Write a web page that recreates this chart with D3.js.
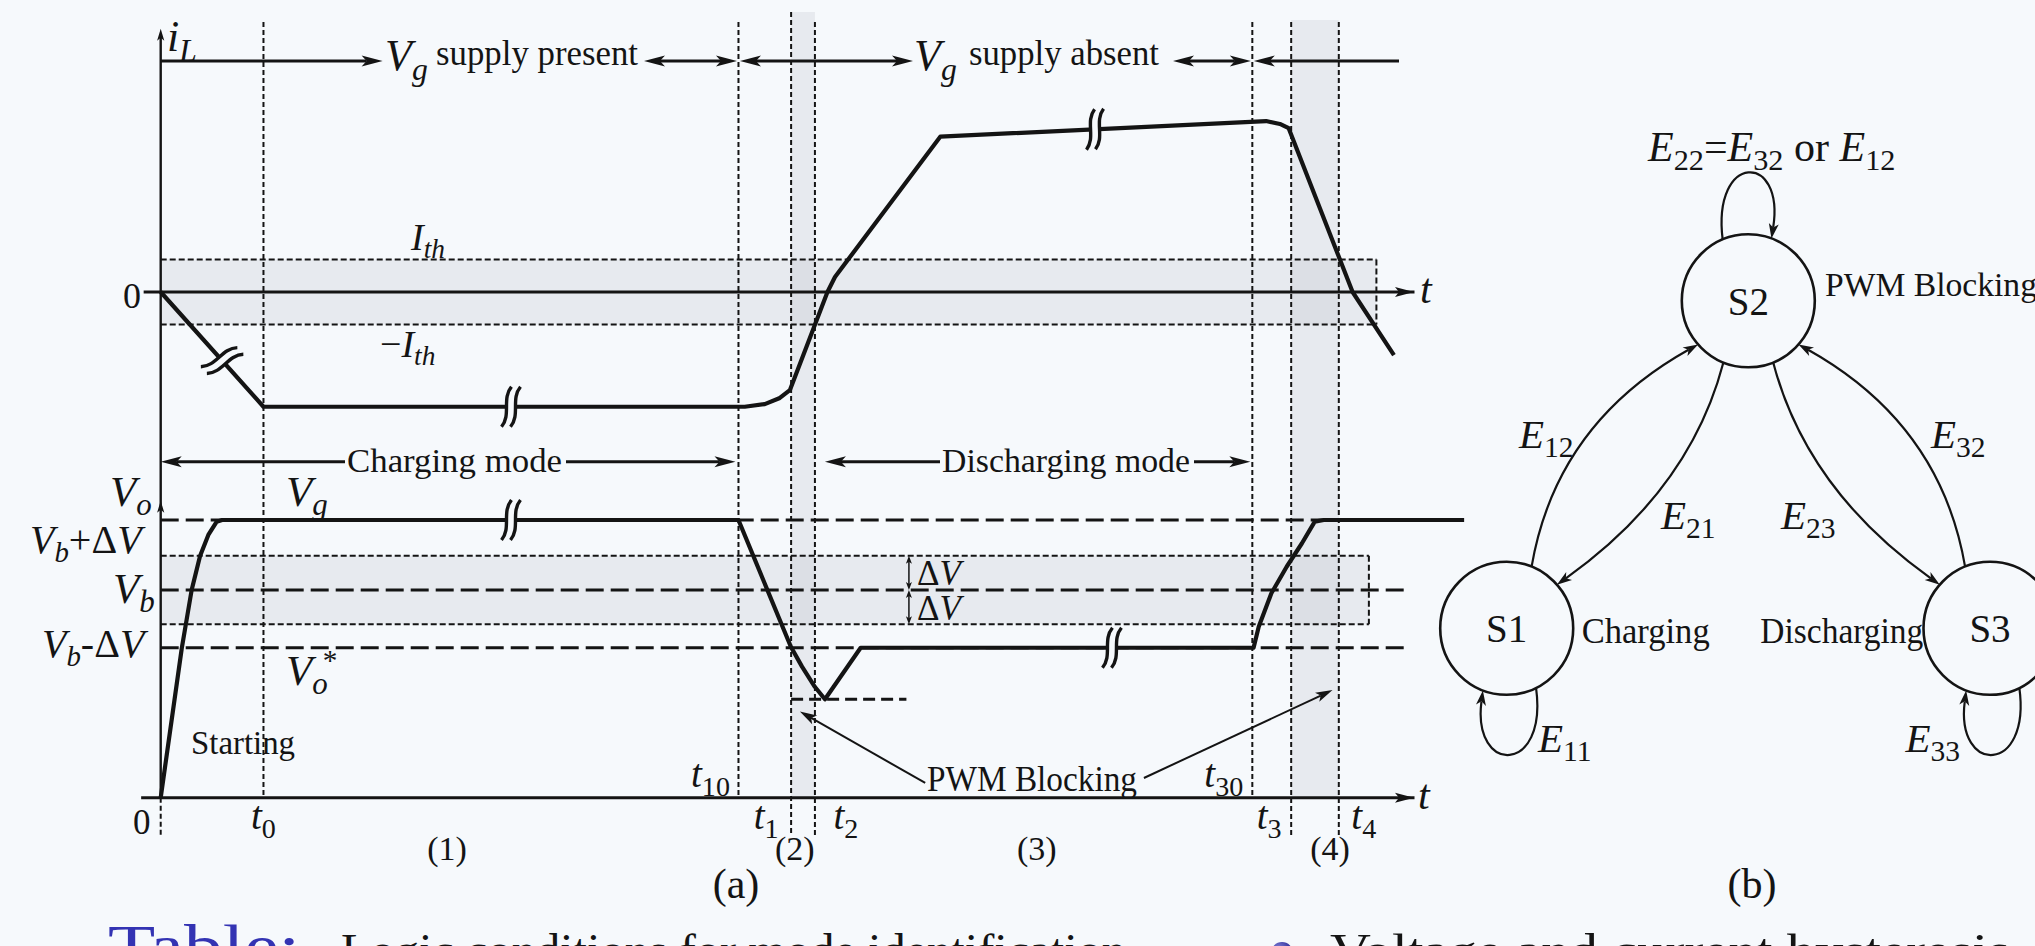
<!DOCTYPE html>
<html>
<head>
<meta charset="utf-8">
<script src="https://cdn.jsdelivr.net/npm/d3@7"></script>
<style>
  html, body { margin: 0; padding: 0; background: #f6f9fc; overflow: hidden; }
  svg { display: block; }
  text { font-family: "Liberation Serif", "Times New Roman", serif; fill: #141414; }
</style>
</head>
<body>
<svg id="fig" width="2035" height="946"></svg>
<script>
// ---------------- data ----------------
// switching instants on the time axis (arbitrary time units)
const instantNames = ["0", "t0", "t10", "t1", "t2", "t30", "t3", "t4"];
const instantTimes = [0, 8.2, 46.1, 50.3, 52.2, 87.1, 90.2, 94.0];

// inductor current i_L (units of I_th)
const iLTime  = [0, 8.2, 46.6, 48.2, 49.4, 50.2, 53.2, 53.8, 62.2, 88.2, 89.3, 90.0, 95.1, 98.4];
const iLValue = [0, -3.53, -3.53, -3.45, -3.26, -3.02, 0, 0.46, 4.78, 5.26, 5.17, 5.04, 0, -1.94];

// output voltage V_o (V_b = 10)
const voTime  = [0, 1.68, 2.02, 2.47, 3.14, 3.80, 4.47, 4.9, 46.1, 50.28, 51.17, 52.19, 53.0, 55.85,
                 87.2, 87.61, 88.62, 89.84, 91.06, 92.08, 92.8, 104.0];
const voValue = [0, 7.19, 8.40, 10.0, 11.64, 12.65, 13.29, 13.37, 13.37, 7.27, 6.31, 5.34, 4.74, 7.22,
                 7.22, 8.23, 9.84, 11.12, 12.25, 13.29, 13.37, 13.37];

// reference levels
const iThreshold = 1;
const vGrid = 13.37, vBattery = 10, deltaV = 1.65, vRef = 7.22, vMin = 4.74;

// time-axis break marks
const iLBreakTimes = [4.9, 27.95, 74.55];
const voBreakTimes = [27.95, 75.9];

// operating phases
const phaseNames = ["(1)", "(2)", "(3)", "(4)"];
const phaseTimes = [22.85, 50.6, 69.9, 93.3];

// state machine
const states = ["S1", "S2", "S3"];
const stateModes = ["Charging", "PWM Blocking", "Discharging"];
const transitions = [["S1", "S2", "12"], ["S2", "S1", "21"], ["S2", "S3", "23"], ["S3", "S2", "32"]];
const selfLoops = [["S1", "11"], ["S2", "22"], ["S3", "33"]];

// ---------------- setup ----------------
const bg = "#f6f9fc", ink = "#141414";
const svg = d3.select("#fig");
svg.append("rect").attr("width", 2035).attr("height", 946).attr("fill", bg);

const x  = d3.scaleLinear().domain([0, 100]).range([160.7, 1414]);
const yI = d3.scaleLinear().domain([0, 1]).range([292, 259.5]);
const yV = d3.scaleLinear().domain([0, 10]).range([797.7, 590]);
const T = Object.fromEntries(instantNames.map((n, i) => [n, instantTimes[i]]));

function interp(ts, vs, t) {
  for (let k = 0; k < ts.length - 1; k++) {
    if (t >= ts[k] && t <= ts[k + 1]) {
      const f = (t - ts[k]) / (ts[k + 1] - ts[k]);
      return vs[k] + f * (vs[k + 1] - vs[k]);
    }
  }
  return vs[vs.length - 1];
}

function head(g, tx, ty, ang, len, hw, notch) {
  g.append("path")
    .attr("d", `M0,0 L${-len},${-hw} L${-len + notch},0 L${-len},${hw} Z`)
    .attr("transform", `translate(${tx},${ty}) rotate(${ang * 180 / Math.PI})`)
    .attr("fill", ink);
}
function arrow(g, x1, y1, x2, y2, o = {}) {
  const w = o.w ?? 3, len = o.len ?? 21, hw = o.hw ?? 5.5, notch = o.notch ?? 5;
  const start = o.start ?? false, end = o.end ?? true;
  const a = Math.atan2(y2 - y1, x2 - x1);
  const ts = start ? len - notch : 0, te = end ? len - notch : 0;
  g.append("line")
    .attr("x1", x1 + Math.cos(a) * ts).attr("y1", y1 + Math.sin(a) * ts)
    .attr("x2", x2 - Math.cos(a) * te).attr("y2", y2 - Math.sin(a) * te)
    .attr("stroke", ink).attr("stroke-width", w);
  if (end) head(g, x2, y2, a, len, hw, notch);
  if (start) head(g, x1, y1, a + Math.PI, len, hw, notch);
}

// text with italic letters, subscripts and superscripts
function mathLabel(parent, px, py, parts, size, anchor = "start") {
  const t = parent.append("text").attr("x", px).attr("y", py)
    .attr("font-size", size).attr("text-anchor", anchor);
  let shift = 0;
  parts.forEach(p => {
    const kind = p[1] || "r";
    let target = 0, fs = size, italic = kind === "i";
    if (kind === "sub" || kind === "isub") { target = size * 0.22; fs = size * 0.72; italic = kind === "isub"; }
    if (kind === "sup") { target = -size * 0.36; fs = size * 0.68; }
    const ts = t.append("tspan").text(p[0]).attr("font-size", fs).attr("dy", target - shift);
    if (italic) ts.attr("font-style", "italic");
    if (p[2] !== undefined) ts.attr("dx", p[2]);
    shift = target;
  });
  return t;
}
function plainLabel(parent, px, py, str, size, len, anchor = "start") {
  const t = parent.append("text").attr("x", px).attr("y", py).attr("font-size", size)
    .attr("text-anchor", anchor).text(str);
  if (len) t.attr("textLength", len).attr("lengthAdjust", "spacingAndGlyphs");
  return t;
}

// ---------------- shaded threshold bands ----------------
const bandFill = "rgb(188,193,199)", bandOpacity = 0.25;
const gBands = svg.append("g");
// current hysteresis band  |i_L| < I_th
gBands.append("rect").attr("x", x(0)).attr("y", yI(iThreshold))
  .attr("width", x(97.0) - x(0)).attr("height", yI(-iThreshold) - yI(iThreshold))
  .attr("fill", bandFill).attr("opacity", bandOpacity);
// voltage hysteresis band  V_b ± ΔV
gBands.append("rect").attr("x", x(0)).attr("y", yV(vBattery + deltaV))
  .attr("width", x(96.4) - x(0)).attr("height", yV(vBattery - deltaV) - yV(vBattery + deltaV))
  .attr("fill", bandFill).attr("opacity", bandOpacity);
// PWM blocking intervals
[[T.t1, T.t2, 12], [T.t3, T.t4, 20]].forEach(([a, b, top]) => {
  gBands.append("rect").attr("x", x(a)).attr("y", top).attr("width", x(b) - x(a))
    .attr("height", yV(0) - top).attr("fill", bandFill).attr("opacity", bandOpacity);
});

// band outlines
const gEdges = svg.append("g").attr("fill", "none").attr("stroke", ink).attr("stroke-width", 2)
  .attr("stroke-dasharray", "6,3");
[iThreshold, -iThreshold].forEach(v =>
  gEdges.append("line").attr("x1", x(0)).attr("x2", x(97.0)).attr("y1", yI(v)).attr("y2", yI(v)));
gEdges.append("line").attr("x1", x(97.0)).attr("x2", x(97.0)).attr("y1", yI(iThreshold)).attr("y2", yI(-iThreshold));
[vBattery + deltaV, vBattery - deltaV].forEach(v =>
  gEdges.append("line").attr("x1", x(0)).attr("x2", x(96.4)).attr("y1", yV(v)).attr("y2", yV(v)));
gEdges.append("line").attr("x1", x(96.4)).attr("x2", x(96.4))
  .attr("y1", yV(vBattery + deltaV)).attr("y2", yV(vBattery - deltaV));

// ---------------- instant markers ----------------
const gInst = svg.append("g").attr("stroke", ink).attr("stroke-width", 2).attr("stroke-dasharray", "5,3");
const longDrop = ["t1", "t2", "t3", "t4"];
instantNames.forEach((n, i) => {
  const xx = x(instantTimes[i]);
  const bottom = (longDrop.includes(n) || n === "0") ? 836 : yV(0);
  const top = n === "0" ? yV(0) : (n === "t1" ? 12 : 22);
  gInst.append("line").attr("x1", xx).attr("x2", xx).attr("y1", top).attr("y2", bottom);
});

// ---------------- voltage reference levels ----------------
const gLev = svg.append("g").attr("stroke", ink).attr("stroke-width", 3).attr("stroke-dasharray", "18,7");
[vGrid, vBattery, vRef].forEach(v =>
  gLev.append("line").attr("x1", x(0)).attr("x2", x(99.6)).attr("y1", yV(v)).attr("y2", yV(v)));
svg.append("line").attr("x1", x(T.t1)).attr("x2", x(59.5)).attr("y1", yV(vMin)).attr("y2", yV(vMin))
  .attr("stroke", ink).attr("stroke-width", 3).attr("stroke-dasharray", "12,6");

// ---------------- axes ----------------
const upperAxisScale = d3.scaleLinear().domain([-1.4, 100]).range([x(-1.4), x(100)]);
const lowerAxisScale = d3.scaleLinear().domain([-1.6, 100]).range([x(-1.6), x(100)]);
[[upperAxisScale, yI(0)], [lowerAxisScale, yV(0)]].forEach(([sc, yy]) => {
  const g = svg.append("g").attr("transform", `translate(0,${yy - 0.5})`)
    .call(d3.axisBottom(sc).tickValues([]).tickSizeOuter(0));
  g.select(".domain").attr("stroke", ink).attr("stroke-width", 3);
  head(svg, x(100), yy, 0, 19, 5, 4);
});
// shared vertical axis: i_L on top, V_o below
svg.append("line").attr("x1", x(0)).attr("x2", x(0)).attr("y1", yV(0)).attr("y2", yI(8.1) + 8)
  .attr("stroke", ink).attr("stroke-width", 2.4);
head(svg, x(0), yI(8.1), -Math.PI / 2, 12, 3.6, 3);
head(svg, x(0), yV(14.3), -Math.PI / 2, 12, 3.6, 3);

// ---------------- waveforms ----------------
const iLPts = iLTime.map((t, k) => [t, iLValue[k]]);
const voPts = voTime.map((t, k) => [t, voValue[k]]);
svg.append("path").datum(iLPts)
  .attr("d", d3.line().x(d => x(d[0])).y(d => yI(d[1])))
  .attr("fill", "none").attr("stroke", ink).attr("stroke-width", 4.2).attr("stroke-linejoin", "round");
svg.append("path").datum(voPts)
  .attr("d", d3.line().x(d => x(d[0])).y(d => yV(d[1])))
  .attr("fill", "none").attr("stroke", ink).attr("stroke-width", 4.2).attr("stroke-linejoin", "round");

// break marks on the waveforms
function breakMark(px, py, ang) {
  const g = svg.append("g").attr("transform", `translate(${px},${py}) rotate(${ang})`);
  g.append("line").attr("x1", -5).attr("x2", 5).attr("y1", 0).attr("y2", 0)
    .attr("stroke", bg).attr("stroke-width", 8);
  [-4.5, 4.5].forEach(dx => g.append("path")
    .attr("d", `M${dx + 5},-20 C${dx - 5},-8 ${dx + 5},8 ${dx - 5},20`)
    .attr("fill", "none").attr("stroke", ink).attr("stroke-width", 3.4));
}
function placeBreaks(times, ts, vs, ys) {
  times.forEach(t => {
    const p0 = [x(t - 0.3), ys(interp(ts, vs, t - 0.3))], p1 = [x(t + 0.3), ys(interp(ts, vs, t + 0.3))];
    const ang = Math.atan2(p1[1] - p0[1], p1[0] - p0[0]) * 180 / Math.PI;
    breakMark(x(t), ys(interp(ts, vs, t)), ang);
  });
}
placeBreaks(iLBreakTimes, iLTime, iLValue, yI);
placeBreaks(voBreakTimes, voTime, voValue, yV);

// ---------------- annotations, panel (a) ----------------
const gA = svg.append("g");
// supply status row
const rowY = 61;
arrow(gA, x(0), rowY, 382.6, rowY);
mathLabel(gA, 385, 70, [["V", "i"], ["g", "isub"]], 44);
plainLabel(gA, 436, 65, "supply present", 36, 202);
arrow(gA, 644, rowY, x(T.t10) - 1.5, rowY, { start: true });
arrow(gA, x(T.t10) + 1.5, rowY, 913, rowY, { start: true });
mathLabel(gA, 914, 70, [["V", "i"], ["g", "isub"]], 44);
plainLabel(gA, 969, 65, "supply absent", 36, 190);
arrow(gA, 1173, rowY, x(T.t30) - 1.5, rowY, { start: true });
arrow(gA, x(T.t30) + 1.5, rowY, 1399, rowY, { start: true, end: false });

// mode row
const modeY = 461.7;
arrow(gA, x(0), modeY, 345, modeY, { start: true, end: false });
plainLabel(gA, 347, 472, "Charging mode", 33, 215);
arrow(gA, 566, modeY, x(T.t10) - 3, modeY);
arrow(gA, x(T.t2) + 10, modeY, 940, modeY, { start: true, end: false });
plainLabel(gA, 942, 472, "Discharging mode", 33, 248);
arrow(gA, 1194, modeY, x(T.t30) - 2, modeY);

// axis and level labels
mathLabel(gA, 167, 51, [["i", "i"], ["L", "isub"]], 44);
plainLabel(gA, 141, 308, "0", 36, null, "end");
mathLabel(gA, 1420, 303, [["t", "i"]], 42);
mathLabel(gA, 1418, 809, [["t", "i"]], 42);
mathLabel(gA, 411, 250, [["I", "i"], ["th", "isub"]], 38);
mathLabel(gA, 380, 357, [["−", "r"], ["I", "i"], ["th", "isub"]], 38);
mathLabel(gA, 110, 506, [["V", "i"], ["o", "isub"]], 43);
mathLabel(gA, 286, 506, [["V", "i"], ["g", "isub"]], 43);
mathLabel(gA, 30, 553, [["V", "i"], ["b", "isub"], ["+", "r"], ["Δ", "r"], ["V", "i"]], 40);
mathLabel(gA, 113, 603, [["V", "i"], ["b", "isub"]], 43);
mathLabel(gA, 42, 657, [["V", "i"], ["b", "isub"], ["-", "r"], ["Δ", "r"], ["V", "i"]], 40);
mathLabel(gA, 286, 685, [["V", "i"], ["o", "isub"], ["*", "sup", -5]], 43);
plainLabel(gA, 191, 754, "Starting", 33, 104);

// ΔV markers
const dvX = x(59.7);
arrow(gA, dvX, yV(vBattery), dvX, yV(vBattery + deltaV), { w: 1.5, len: 8, hw: 3, notch: 2, start: true });
arrow(gA, dvX, yV(vBattery), dvX, yV(vBattery - deltaV), { w: 1.5, len: 8, hw: 3, notch: 2, start: true });
mathLabel(gA, 917, 585, [["Δ", "r"], ["V", "i"]], 35);
mathLabel(gA, 917, 620, [["Δ", "r"], ["V", "i"]], 35);

// PWM blocking callout
plainLabel(gA, 927, 791, "PWM Blocking", 36, 210);
arrow(gA, x(61.0), yV(0.71), x(51.0), yV(4.15), { w: 2, len: 17, hw: 5, notch: 4 });
arrow(gA, x(78.45), yV(0.95), x(93.5), yV(5.18), { w: 2, len: 17, hw: 5, notch: 4 });

// instant labels
const tickDx = { "0": -19, t0: 0, t10: -28, t1: -25, t2: 31, t30: -28.5, t3: -22, t4: 25 };
instantNames.forEach((n, i) => {
  const xx = x(instantTimes[i]) + tickDx[n];
  if (n === "0") { plainLabel(gA, xx, 834, "0", 35, null, "middle"); return; }
  const inside = n === "t10" || n === "t30";
  mathLabel(gA, xx, inside ? 787 : 829, [["t", "i"], [n.slice(1), "sub"]], 39, "middle");
});
phaseNames.forEach((p, i) => plainLabel(gA, x(phaseTimes[i]), 860, p, 34, null, "middle"));
plainLabel(gA, 736, 898, "(a)", 42, null, "middle");

// ---------------- panel (b): mode state machine ----------------
const gB = svg.append("g");
const nodeR = 66.5;
const nodePos = { S1: [1506.7, 628.3], S2: [1748.3, 300.8], S3: [1990, 628.3] };
const onCircle = (s, deg) => [nodePos[s][0] + nodeR * Math.cos(deg * Math.PI / 180),
                              nodePos[s][1] + nodeR * Math.sin(deg * Math.PI / 180)];
const edgeGeom = {
  "12": { a0: -68, a1: 139, c: [1556, 424], lab: [1519, 448] },
  "21": { a0: 112, a1: -41, c: [1690, 490], lab: [1661, 529] },
  "23": { a0: 68, a1: -139, c: [1806.6, 490], lab: [1781, 529] },
  "32": { a0: -112, a1: 41, c: [1940.6, 424], lab: [1931, 448] }
};
const loopGeom = {
  S1: { a0: 63.8, a1: 111, c1: [1548, 775], c2: [1472, 775], lab: [1538, 752], anchor: "start" },
  S2: { a0: -112.7, a1: -69.6, c1: [1712, 152], c2: [1785, 152], lab: null },
  S3: { a0: 63.8, a1: 111, c1: [2031.3, 775], c2: [1955.3, 775], lab: [1960, 752], anchor: "end" }
};
const hl = 15, hhw = 5, hn = 4;

states.forEach(s => {
  gB.append("circle").attr("cx", nodePos[s][0]).attr("cy", nodePos[s][1]).attr("r", nodeR)
    .attr("fill", "none").attr("stroke", ink).attr("stroke-width", 2.6);
  plainLabel(gB, nodePos[s][0], nodePos[s][1] + 14, s, 39, null, "middle");
});
transitions.forEach(([from, to, lab]) => {
  const g = edgeGeom[lab];
  const p0 = onCircle(from, g.a0), p1 = onCircle(to, g.a1), c = g.c;
  const a = Math.atan2(p1[1] - c[1], p1[0] - c[0]);
  const e = [p1[0] - Math.cos(a) * (hl - hn), p1[1] - Math.sin(a) * (hl - hn)];
  gB.append("path").attr("d", `M${p0[0]},${p0[1]} Q${c[0]},${c[1]} ${e[0]},${e[1]}`)
    .attr("fill", "none").attr("stroke", ink).attr("stroke-width", 2.2);
  head(gB, p1[0], p1[1], a, hl, hhw, hn);
  mathLabel(gB, g.lab[0], g.lab[1], [["E", "i"], [lab, "sub"]], 41);
});
selfLoops.forEach(([s, lab]) => {
  const g = loopGeom[s];
  const p0 = onCircle(s, g.a0), p1 = onCircle(s, g.a1);
  const a = Math.atan2(p1[1] - g.c2[1], p1[0] - g.c2[0]);
  const e = [p1[0] - Math.cos(a) * (hl - hn), p1[1] - Math.sin(a) * (hl - hn)];
  gB.append("path")
    .attr("d", `M${p0[0]},${p0[1]} C${g.c1[0]},${g.c1[1]} ${g.c2[0]},${g.c2[1]} ${e[0]},${e[1]}`)
    .attr("fill", "none").attr("stroke", ink).attr("stroke-width", 2.2);
  head(gB, p1[0], p1[1], a, hl, hhw, hn);
  if (g.lab) mathLabel(gB, g.lab[0], g.lab[1], [["E", "i"], [lab, "sub"]], 41, g.anchor);
});
mathLabel(gB, 1648, 161,
  [["E", "i"], ["22", "sub"], ["=", "r"], ["E", "i"], ["32", "sub"], [" or ", "r"], ["E", "i"], ["12", "sub"]], 42);
plainLabel(gB, 1825, 296, stateModes[1], 34, 212);
plainLabel(gB, 1581.7, 643, stateModes[0], 35, 128);
plainLabel(gB, 1923.3, 643, stateModes[2], 35, 163, "end");
plainLabel(gB, 1752, 898, "(b)", 42, null, "middle");

// ---------------- caption strip ----------------
const gC = svg.append("g");
plainLabel(gC, 108, 967, "Table:", 62, 192).style("fill", "#3333b3");
plainLabel(gC, 341, 966, "Logic conditions for mode identification", 46, 785);
const grad = svg.append("defs").append("radialGradient").attr("id", "ball").attr("cx", "35%").attr("cy", "35%").attr("r", "65%");
grad.append("stop").attr("offset", "0%").attr("stop-color", "#8a8ae0");
grad.append("stop").attr("offset", "100%").attr("stop-color", "#22228f");
gC.append("circle").attr("cx", 1282).attr("cy", 953).attr("r", 11).attr("fill", "url(#ball)");
plainLabel(gC, 1330, 966, "Voltage and current hysteresis", 46, 680);
</script>
</body>
</html>
